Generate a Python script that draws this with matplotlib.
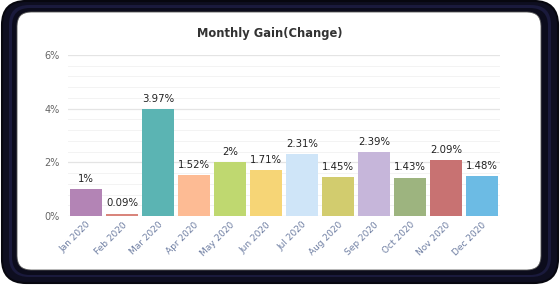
import matplotlib
matplotlib.use("Agg")
import matplotlib.pyplot as plt
from matplotlib.patches import FancyBboxPatch
import numpy as np

months = ["Jan 2020", "Feb 2020", "Mar 2020", "Apr 2020", "May 2020", "Jun 2020",
          "Jul 2020", "Aug 2020", "Sep 2020", "Oct 2020", "Nov 2020", "Dec 2020"]
gains = [1.00, 0.09, 3.97, 1.52, 2.00, 1.71, 2.31, 1.45, 2.39, 1.43, 2.09, 1.48]
labels = ["1%", "0.09%", "3.97%", "1.52%", "2%", "1.71%", "2.31%", "1.45%",
          "2.39%", "1.43%", "2.09%", "1.48%"]
colors = ["#b384b5", "#d9857c", "#5bb4b3", "#fdbb94", "#bfd870", "#f6d576",
          "#cfe5f8", "#d2cc6e", "#c6b6da", "#9db47f", "#c87272", "#6cbbe4"]
yticks = [0, 2, 4, 6]
ytick_labels = ["0%", "2%", "4%", "6%"]

W, H = 560, 285
fig = plt.figure(figsize=(W / 100, H / 100), dpi=100)
fig.patch.set_facecolor("white")

# frame
bg = fig.add_axes([0, 0, 1, 1], zorder=-5)
bg.set_xlim(0, W)
bg.set_ylim(H, 0)
bg.axis("off")
bg.add_patch(FancyBboxPatch((2, 1), W - 4, H - 3, boxstyle="round,pad=0,rounding_size=24",
                            fc="#0e0e20", ec="#07070f", lw=1.5))
bg.add_patch(FancyBboxPatch((9, 5), W - 18, H - 13, boxstyle="round,pad=0,rounding_size=20",
                            fc="#1a1a3c", ec="none"))
bg.add_patch(FancyBboxPatch((12, 8), W - 24, H - 18, boxstyle="round,pad=0,rounding_size=18",
                            fc="#0c0c1c", ec="none"))
bg.add_patch(FancyBboxPatch((17, 12), 524, 258, boxstyle="round,pad=0,rounding_size=14",
                            fc="white", ec="#555", lw=0.6))

ax = fig.add_axes([68 / W, 1 - 216 / H, 432 / W, (216 - 55) / H])
ax.set_facecolor("none")
x = np.arange(len(months))
bars = ax.bar(x, gains, width=0.88, color=colors, zorder=3)
ax.set_xlim(-0.5, len(months) - 0.5)
ax.set_ylim(0, 6)
ax.set_yticks(yticks)
ax.set_yticklabels(ytick_labels, fontsize=7, color="#666666")
ax.set_yticks(np.arange(0, 6.01, 0.4), minor=True)
ax.grid(axis="y", which="major", color="#e4e4e4", lw=0.9, zorder=0)
ax.grid(axis="y", which="minor", color="#f3f3f3", lw=0.7, zorder=0)
ax.set_xticks(x)
ax.set_xticklabels(months, rotation=45, ha="right", rotation_mode="anchor",
                   fontsize=6.5, color="#6f7fa3")
ax.tick_params(axis="both", which="both", length=0, pad=3)
ax.tick_params(axis="y", pad=6)
for s in ax.spines.values():
    s.set_visible(False)

for xi, g, lab in zip(x, gains, labels):
    ax.text(xi, g + 0.2, lab, ha="center", va="bottom", fontsize=7.3, color="#222222", zorder=4)

fig.text(270 / W, 1 - 33 / H, "Monthly Gain(Change)", ha="center", va="center",
         fontsize=8.3, fontweight="bold", color="#333333")

fig.savefig("out.png", dpi=100)
